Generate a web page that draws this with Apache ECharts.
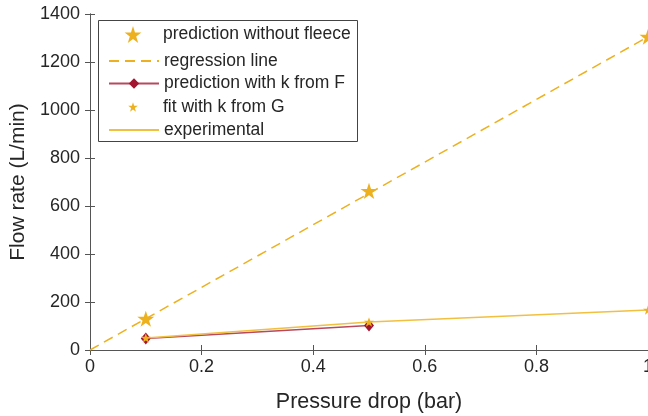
<!DOCTYPE html>
<html>
<head>
<meta charset="utf-8">
<script src="https://cdn.jsdelivr.net/npm/echarts@6/dist/echarts.min.js"></script>
<style>html,body{margin:0;padding:0;background:#fff;}#c{width:648px;height:416px;}</style>
</head>
<body>
<div id="c"></div>
<script>
// ---- data ----
var xPts = [0.1, 0.5, 1.0];
var predNoFleece = [130, 663, 1305];
var regX = [0, 1];
var regY = [0, 1305];
var predFX = [0.1, 0.5];
var predF = [48, 102];
var fitG = [50, 117, 167];
var experimental = [50, 117, 167];
var names = ['prediction without fleece', 'regression line', 'prediction with k from F', 'fit with k from G', 'experimental'];

function pairs(xs, ys) { return xs.map(function (x, i) { return [x, ys[i]]; }); }

var STAR = 'path://M12,0 L14.8,8.5 L23.8,8.5 L16.5,13.8 L19.3,22.4 L12,17.1 L4.7,22.4 L7.5,13.8 L0.2,8.5 L9.2,8.5 Z';
var YEL = '#EDB120';
var RED = '#A2142F';
var AX = '#555555';
var TXT = '#262626';
var FONT = 'Liberation Sans, Arial, sans-serif';

var chart = echarts.init(document.getElementById('c'), null, {renderer: 'canvas'});

var rowY = [36, 58, 81, 104, 127];
var iconH = [21, 12, 13, 12, 12];
function mkLegend(i, extra) {
  var d = {name: names[i]};
  if (extra) for (var k in extra) d[k] = extra[k];
  return {
    left: 108, top: rowY[i] - iconH[i] / 2, padding: 0,
    itemWidth: 50, itemHeight: iconH[i],
    data: [d], selectedMode: false,
    textStyle: {fontFamily: FONT, fontSize: 17.5, color: TXT},
    z: 5
  };
}
function plain(v) { return String(Math.round(v * 10) / 10); }

var option = {
  animation: false,
  backgroundColor: '#fff',
  grid: {left: 90, right: 0, top: 14, bottom: 66, containLabel: false, outerBoundsMode: 'none'},
  graphic: [{
    type: 'rect', shape: {x: 98.5, y: 20.5, width: 259, height: 121},
    style: {fill: '#fff', stroke: '#444', lineWidth: 1}, z: 3
  }],
  legend: [
    mkLegend(0),
    mkLegend(1, {itemStyle: {opacity: 0}}),
    mkLegend(2),
    mkLegend(3),
    mkLegend(4, {itemStyle: {opacity: 0}})
  ],
  xAxis: [{
    type: 'value', min: 0, max: 1, interval: 0.2, position: 'bottom',
    name: 'Pressure drop (bar)', nameLocation: 'middle', nameGap: 41,
    nameTextStyle: {fontFamily: FONT, fontSize: 21.5, color: TXT},
    axisLine: {show: true, lineStyle: {color: AX, width: 1}},
    axisTick: {show: true, inside: true, length: 5, lineStyle: {color: AX}},
    axisLabel: {fontFamily: FONT, fontSize: 18, color: TXT, margin: 8, formatter: plain},
    splitLine: {show: false}
  }, {
    type: 'value', min: 0, max: 1, interval: 0.2, position: 'top',
    axisLine: {show: true, lineStyle: {color: AX, width: 1}},
    axisTick: {show: true, inside: true, length: 5, lineStyle: {color: AX}},
    axisLabel: {show: false}, splitLine: {show: false}
  }],
  yAxis: [{
    type: 'value', min: 0, max: 1400, interval: 200, position: 'left',
    name: 'Flow rate (L/min)', nameLocation: 'middle', nameGap: 54,
    nameTextStyle: {fontFamily: FONT, fontSize: 21, color: TXT},
    axisLine: {show: true, lineStyle: {color: AX, width: 1}},
    axisTick: {show: true, inside: true, length: 5, lineStyle: {color: AX}},
    axisLabel: {fontFamily: FONT, fontSize: 18, color: TXT, margin: 10, formatter: plain},
    splitLine: {show: false}
  }, {
    type: 'value', min: 0, max: 1400, interval: 200, position: 'right',
    axisLine: {show: true, lineStyle: {color: AX, width: 1}},
    axisTick: {show: true, inside: true, length: 5, lineStyle: {color: AX}},
    axisLabel: {show: false}, splitLine: {show: false}
  }],
  series: [{
    name: names[1], type: 'line', data: pairs(regX, regY), symbol: 'none',
    lineStyle: {color: YEL, width: 1.5, type: [10, 6]}, itemStyle: {color: YEL}, z: 2
  }, {
    name: names[2], type: 'line', data: pairs(predFX, predF), symbol: 'diamond', symbolSize: [10, 12],
    lineStyle: {color: '#b8485c', width: 1.5}, itemStyle: {color: RED}, z: 2
  }, {
    name: names[4], type: 'line', data: pairs(xPts, experimental), symbol: 'none',
    lineStyle: {color: '#F2C040', width: 1.5}, itemStyle: {color: '#F2C040'}, z: 3
  }, {
    name: names[3], type: 'line', data: pairs(xPts, fitG), symbol: STAR, symbolSize: 10,
    symbolKeepAspect: true, showSymbol: true, lineStyle: {opacity: 0, width: 0},
    itemStyle: {color: YEL, opacity: 1}, z: 4
  }, {
    name: names[0], type: 'line', data: pairs(xPts, predNoFleece), symbol: STAR, symbolSize: 17,
    symbolKeepAspect: true, showSymbol: true, lineStyle: {opacity: 0, width: 0},
    itemStyle: {color: YEL, opacity: 1}, z: 4
  }]
};
chart.setOption(option);
</script>
</body>
</html>
